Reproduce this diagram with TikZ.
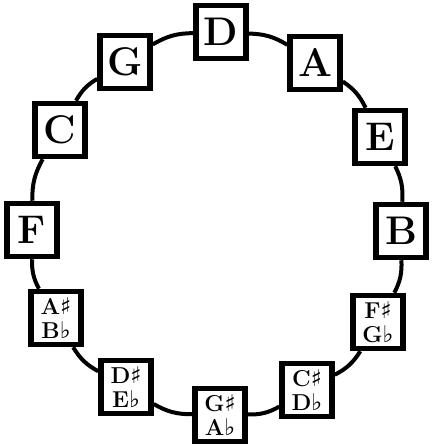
\documentclass[tikz,border=0pt]{standalone}
\usepackage{fontspec}
\newfontfamily\musicsym{DejaVu Serif}
\newcommand{\shp}{{\musicsym\bfseries ♯}}
\newcommand{\flt}{{\musicsym\bfseries ♭}}
\begin{document}
\begin{tikzpicture}[x=1pt,y=1pt,
  keybox/.style={draw=black, fill=white, line width=5.5pt, minimum width=50pt, minimum height=53pt, inner sep=0pt, align=center},
  big/.style={keybox, font=\fontsize{40}{40}\selectfont\bfseries},
  small/.style={keybox, font=\fontsize{23}{24}\selectfont\bfseries},
  ring/.style={line width=4pt, black}]
\useasboundingbox (0,0) rectangle (432,448);
\node[big] (D) at (221,416) {D};
\node[big] (A) at (315,385) {A};
\node[big] (E) at (380,311) {E};
\node[big] (B) at (401,217) {B};
\node[small] (Fs) at (378,126) {F\shp\\G\flt};
\node[small] (Cs) at (307,58) {C\shp\\D\flt};
\node[small] (Gs) at (220,33) {G\shp\\A\flt};
\node[small] (Ds) at (126,61) {D\shp\\E\flt};
\node[small] (As) at (56,130) {A\shp\\B\flt};
\node[big] (F) at (32,218) {F};
\node[big] (C) at (60,318) {C};
\node[big] (G) at (125,386) {G};
\draw[ring] (D) to[bend left=15] (A);
\draw[ring] (A) to[bend left=15] (E);
\draw[ring] (E) to[bend left=15] (B);
\draw[ring] (B) to[bend left=15] (Fs);
\draw[ring] (Fs) to[bend left=15] (Cs);
\draw[ring] (Cs) to[bend left=15] (Gs);
\draw[ring] (Gs) to[bend left=15] (Ds);
\draw[ring] (Ds) to[bend left=15] (As);
\draw[ring] (As) to[bend left=15] (F);
\draw[ring] (F) to[bend left=15] (C);
\draw[ring] (C) to[bend left=15] (G);
\draw[ring] (G) to[bend left=15] (D);
\end{tikzpicture}
\end{document}
